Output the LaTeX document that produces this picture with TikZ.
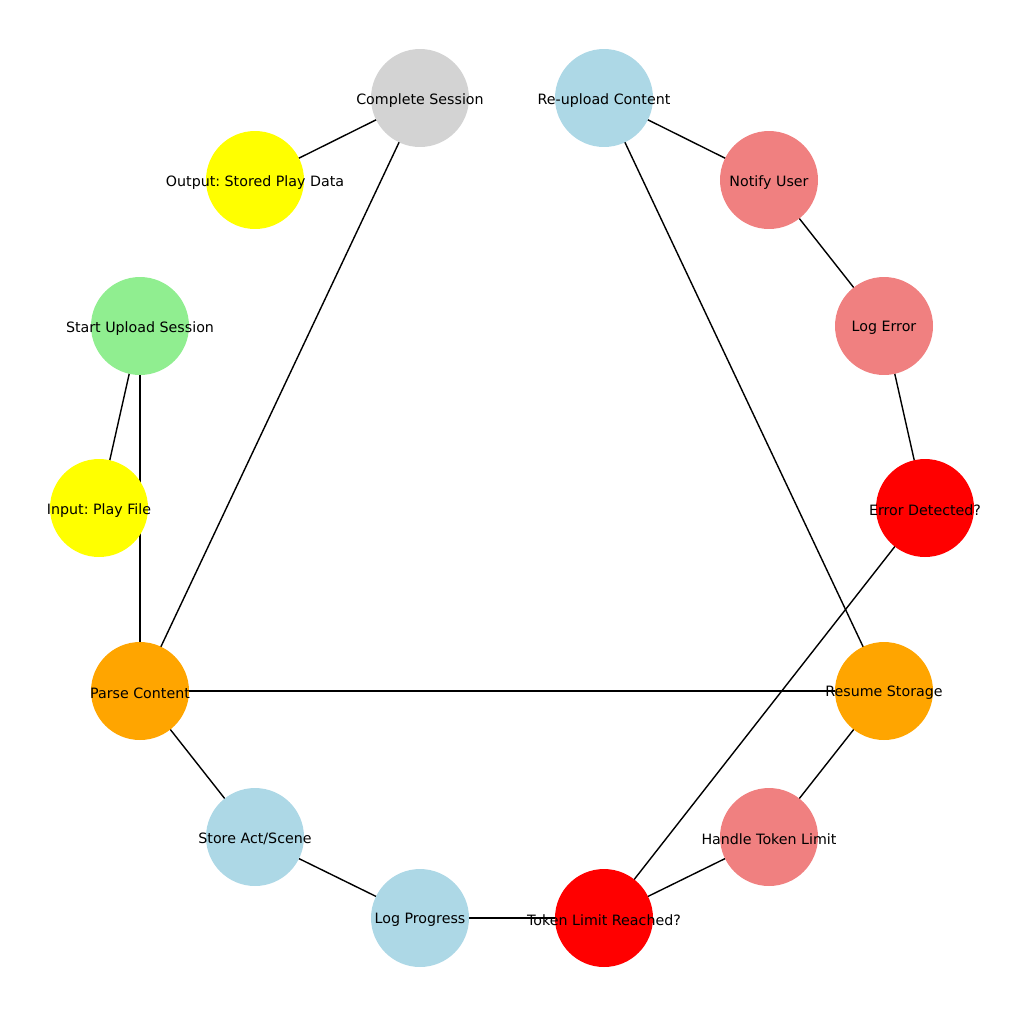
\documentclass[tikz,border=0pt]{standalone}
\usepackage{fontspec}
\setmainfont{DejaVu Sans}
\usetikzlibrary{backgrounds}
\frenchspacing

\definecolor{lgray}{RGB}{211,211,211}
\definecolor{lblue}{RGB}{173,216,230}
\definecolor{lcoral}{RGB}{240,128,128}
\definecolor{orng}{RGB}{255,165,0}
\definecolor{lgreen}{RGB}{144,238,144}
\definecolor{yllw}{RGB}{255,255,0}

\begin{document}
\begin{tikzpicture}[
        x=0.02cm, y=-0.02cm,
        font=\fontsize{8.1}{9.5}\selectfont,
        stage/.style={circle, minimum size=1.96cm, inner sep=0pt},
        link/.style={line width=0.8pt},
        every label/.append style={yshift=-1.2pt}
      ]
        \useasboundingbox (0,0) rectangle (1024,1018);
        \node[stage, fill=lgray, label=center:{Complete Session}]         (done)   at (420,98)  {};
        \node[stage, fill=lblue, label=center:{Re-upload Content}]        (reup)   at (604,98)  {};
        \node[stage, fill=lcoral, label=center:{Notify User}]             (notify) at (769,180) {};
        \node[stage, fill=lcoral, label=center:{Log Error}]               (logerr) at (884,326) {};
        \node[stage, fill=red, label=center:{Error Detected?}]            (err)    at (925,508) {};
        \node[stage, fill=orng, label=center:{Resume Storage}]            (resume) at (884,691) {};
        \node[stage, fill=lcoral, label=center:{Handle Token Limit}]      (handle) at (769,837) {};
        \node[stage, fill=red, label=center:{Token Limit Reached?}]       (limit)  at (604,918) {};
        \node[stage, fill=lblue, label=center:{Log Progress}]             (logprg) at (420,918) {};
        \node[stage, fill=lblue, label=center:{Store Act/Scene}]          (store)  at (255,837) {};
        \node[stage, fill=orng, label=center:{Parse Content}]             (parse)  at (140,691) {};
        \node[stage, fill=yllw, label=center:{Input: Play File}]          (input)  at (99,508)  {};
        \node[stage, fill=lgreen, label=center:{Start Upload Session}]    (start)  at (140,326) {};
        \node[stage, fill=yllw, label=center:{Output: Stored Play Data}]  (output) at (255,180) {};
        % edges under the circles
        \begin{scope}[on background layer]
          \draw[link] (done.center) -- (output.center);
          \draw[link] (done.center) -- (parse.center);
          \draw[link] (reup.center) -- (notify.center);
          \draw[link] (reup.center) -- (resume.center);
          \draw[link] (notify.center) -- (logerr.center);
          \draw[link] (logerr.center) -- (err.center);
          \draw[link] (err.center) -- (limit.center);
          \draw[link] (resume.center) -- (handle.center);
          \draw[link] (resume.center) -- (parse.center);
          \draw[link] (handle.center) -- (limit.center);
          \draw[link] (limit.center) -- (logprg.center);
          \draw[link] (logprg.center) -- (store.center);
          \draw[link] (store.center) -- (parse.center);
          \draw[link] (parse.center) -- (start.center);
          \draw[link] (start.center) -- (input.center);
        \end{scope}
      \end{tikzpicture}
\end{document}
